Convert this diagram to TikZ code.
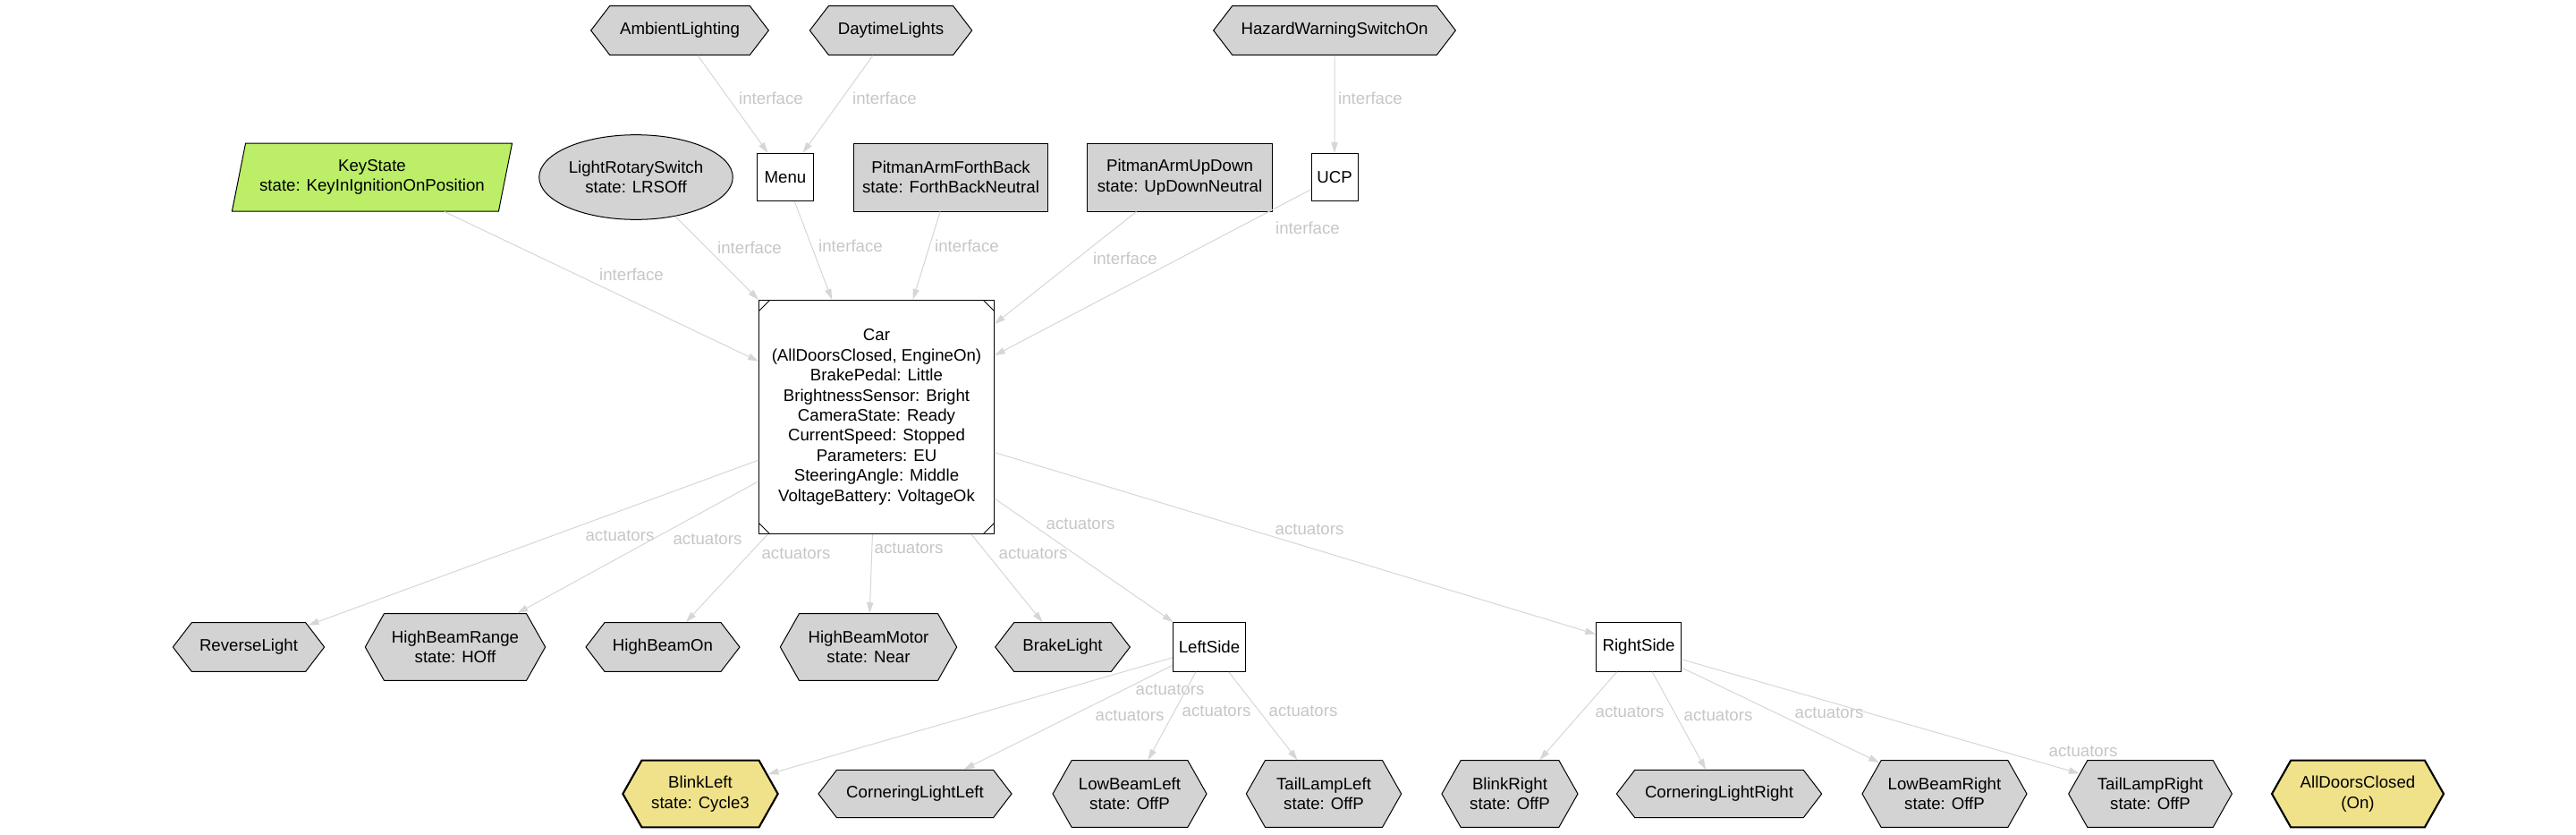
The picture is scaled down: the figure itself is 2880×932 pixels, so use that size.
\documentclass[tikz,border=0pt]{standalone}
\usepackage{fontspec}
\setmainfont{Liberation Sans}
\usepackage{tikz}
\usetikzlibrary{shapes.geometric, shapes.symbols, arrows.meta}
\definecolor{nodegray}{RGB}{211,211,211}
\definecolor{khaki}{RGB}{240,226,138}
\definecolor{keygreen}{RGB}{188,238,104}
\definecolor{edgegray}{RGB}{214,214,214}
\definecolor{labelgray}{RGB}{198,198,198}
\newcommand{\gvfont}{\fontsize{14pt}{16.8pt}\selectfont}
\tikzset{
  base/.style     = {draw=black, line width=0.75pt, align=center, inner sep=1pt,
                     font=\gvfont},
  box/.style      = {base, rectangle, fill=white},
  stbox/.style    = {base, rectangle, fill=nodegray},
  hexa/.style     = {base, signal, signal to=west and east, fill=nodegray,
                     signal pointer angle=105},
  hexatall/.style = {hexa, signal pointer angle=121},
  active/.style   = {hexatall, fill=khaki, line width=1.6pt},
  msquare/.style  = {box, path picture={
      \draw[line width=0.75pt]
        ([xshift=9pt]path picture bounding box.north west) -- ([yshift=-9pt]path picture bounding box.north west)
        ([xshift=-9pt]path picture bounding box.north east) -- ([yshift=-9pt]path picture bounding box.north east)
        ([xshift=9pt]path picture bounding box.south west) -- ([yshift=9pt]path picture bounding box.south west)
        ([xshift=-9pt]path picture bounding box.south east) -- ([yshift=9pt]path picture bounding box.south east);}},
  edge/.style     = {-{Triangle[length=9pt, width=5.5pt]}, line width=0.75pt, draw=edgegray},
  lbl/.style      = {font=\gvfont, text=labelgray, inner sep=0pt},
}

\begin{document}
\begin{tikzpicture}[x=0.75pt, y=-0.75pt]
  \useasboundingbox (0,0) rectangle (2880,932);

  \node[hexa, minimum width=149pt, minimum height=41pt] (ambient) at (760,34) {AmbientLighting};
  \node[hexa, minimum width=136pt, minimum height=41pt] (daytime) at (996,34) {DaytimeLights};
  \node[hexa, minimum width=203pt, minimum height=41pt] (hazard) at (1492,34) {HazardWarningSwitchOn};

  \node[base, trapezium, trapezium left angle=72, trapezium right angle=108, trapezium stretches=true,
        fill=keygreen, minimum width=235pt, minimum height=57pt] (keystate) at (416,198)
        {KeyState\\state: KeyInIgnitionOnPosition};
  \node[base, ellipse, fill=nodegray, minimum width=139pt, minimum height=71pt] (lrs) at (711,198)
        {LightRotarySwitch\\state: LRSOff};
  \node[box, minimum width=47pt, minimum height=40pt] (menu) at (878,198) {Menu};
  \node[stbox, minimum width=163pt, minimum height=57pt] (pafb) at (1063,198)
        {PitmanArmForthBack\\state: ForthBackNeutral};
  \node[stbox, minimum width=155pt, minimum height=57pt] (paud) at (1319,198)
        {PitmanArmUpDown\\state: UpDownNeutral};
  \node[box, minimum width=39pt, minimum height=40pt] (ucp) at (1492,198) {UCP};

  \node[msquare, minimum width=197pt, minimum height=196pt] (car) at (980,466)
        {Car\\(AllDoorsClosed, EngineOn)\\BrakePedal: Little\\BrightnessSensor: Bright\\CameraState: Ready\\CurrentSpeed: Stopped\\Parameters: EU\\SteeringAngle: Middle\\VoltageBattery: VoltageOk};

  \node[hexa, minimum width=127pt, minimum height=41pt] (reverse) at (278,723) {ReverseLight};
  \node[hexatall, minimum width=151pt, minimum height=56pt] (hbrange) at (509,723) {HighBeamRange\\state: HOff};
  \node[hexa, minimum width=129pt, minimum height=41pt] (hbon) at (741,723) {HighBeamOn};
  \node[hexatall, minimum width=148pt, minimum height=56pt] (hbmotor) at (971,723) {HighBeamMotor\\state: Near};
  \node[hexa, minimum width=113pt, minimum height=41pt] (brake) at (1188,723) {BrakeLight};
  \node[box, minimum width=61pt, minimum height=41pt] (leftside) at (1352,723) {LeftSide};
  \node[box, minimum width=71pt, minimum height=41pt] (rightside) at (1832,723) {RightSide};

  \node[active, minimum width=130pt, minimum height=56pt] (blinkleft) at (783,887) {BlinkLeft\\state: Cycle3};
  \node[hexa, minimum width=162pt, minimum height=40pt] (cornleft) at (1023,887) {CorneringLightLeft};
  \node[hexatall, minimum width=129pt, minimum height=56pt] (lowleft) at (1263,887) {LowBeamLeft\\state: OffP};
  \node[hexatall, minimum width=130pt, minimum height=56pt] (tailleft) at (1480,887) {TailLampLeft\\state: OffP};
  \node[hexatall, minimum width=114pt, minimum height=56pt] (blinkright) at (1688,887) {BlinkRight\\state: OffP};
  \node[hexa, minimum width=172pt, minimum height=40pt] (cornright) at (1922,887) {CorneringLightRight};
  \node[hexatall, minimum width=138pt, minimum height=56pt] (lowright) at (2174,887) {LowBeamRight\\state: OffP};
  \node[hexatall, minimum width=137pt, minimum height=56pt] (tailright) at (2404,887) {TailLampRight\\state: OffP};
  \node[active, minimum width=144pt, minimum height=56pt] (alldoors) at (2636,887) {AllDoorsClosed\\(On)};

  \draw[edge] (ambient) -- (menu) node[lbl] (i1) at (862,110) {interface};
  \draw[edge] (daytime) -- (menu) node[lbl] (i2) at (989,110) {interface};
  \draw[edge] (hazard) -- (ucp) node[lbl] (i3) at (1532,110) {interface};
  \draw[edge] (keystate) -- (car) node[lbl] (i4) at (706,307) {interface};
  \draw[edge] (lrs) -- (car) node[lbl] (i5) at (838,277) {interface};
  \draw[edge] (menu) -- (car) node[lbl] (i6) at (951,275) {interface};
  \draw[edge] (pafb) -- (car) node[lbl] (i7) at (1081,275) {interface};
  \draw[edge] (paud) -- (car) node[lbl] (i8) at (1258,289) {interface};
  \draw[edge] (ucp) -- (car) node[lbl] (i9) at (1462,255) {interface};

  \draw[edge] (car) -- (reverse) node[lbl] (a1) at (693,599) {actuators};
  \draw[edge] (car) -- (hbrange) node[lbl] (a2) at (791,603) {actuators};
  \draw[edge] (car) -- (hbon) node[lbl] (a3) at (890,619) {actuators};
  \draw[edge] (car) -- (hbmotor) node[lbl] (a4) at (1016,613) {actuators};
  \draw[edge] (car) -- (brake) node[lbl] (a5) at (1155,619) {actuators};
  \draw[edge] (car) -- (leftside) node[lbl] (a6) at (1208,586) {actuators};
  \draw[edge] (car) -- (rightside) node[lbl] (a7) at (1464,592) {actuators};

  \draw[edge] (leftside) -- (blinkleft) node[lbl] (a8) at (1263,800) {actuators};
  \draw[edge] (leftside) -- (cornleft) node[lbl] (a9) at (1308,771) {actuators};
  \draw[edge] (leftside) -- (lowleft) node[lbl] (a10) at (1360,795) {actuators};
  \draw[edge] (leftside) -- (tailleft) node[lbl] (a11) at (1457,795) {actuators};
  \draw[edge] (rightside) -- (blinkright) node[lbl] (a12) at (1822,796) {actuators};
  \draw[edge] (rightside) -- (cornright) node[lbl] (a13) at (1921,800) {actuators};
  \draw[edge] (rightside) -- (lowright) node[lbl] (a14) at (2045,797) {actuators};
  \draw[edge] (rightside) -- (tailright) node[lbl] (a15) at (2329,840) {actuators};
\end{tikzpicture}
\end{document}
